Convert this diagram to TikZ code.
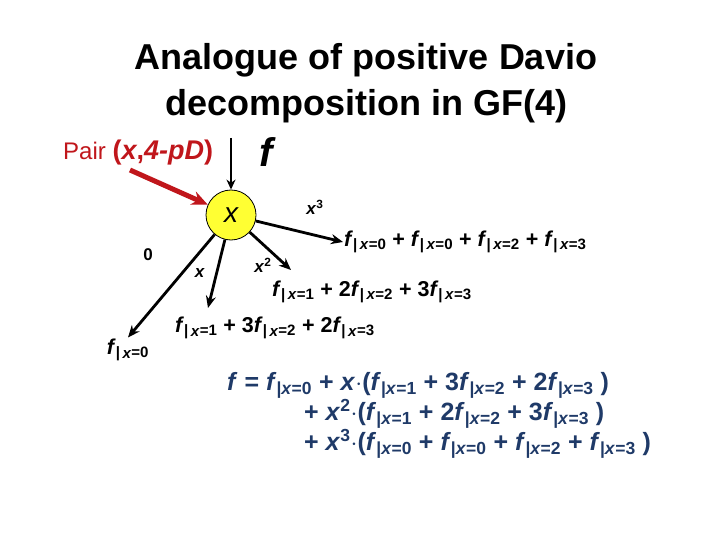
\documentclass[tikz,border=0pt]{standalone}
\usepackage{fontspec}
\setmainfont{Liberation Sans}
\usetikzlibrary{positioning,arrows.meta,calc}
\definecolor{pairred}{HTML}{C0161B}
\definecolor{eqblue}{HTML}{1F3A68}
\definecolor{varyellow}{HTML}{FFFF33}
\newcommand{\fx}[1]{\textit{f}\textsubscript{|\,\textit{x}=#1}}
\newcommand{\fb}[1]{\textit{f}\textsubscript{|\textit{x}=#1}}
\tikzset{
    title/.style={font=\fontsize{36}{46}\selectfont\bfseries,align=center},
    var/.style={circle,draw,thick,fill=varyellow,minimum size=50pt,inner sep=0pt,
        font=\fontsize{28}{30}\selectfont\itshape},
    branch/.style={-{Stealth[length=12pt,width=10pt]},line width=2.8pt},
    lbl/.style={font=\fontsize{17}{20}\selectfont\bfseries},
    cof/.style={font=\fontsize{21.5}{24}\selectfont\bfseries,inner sep=1pt},
    eq/.style={font=\fontsize{25}{29}\selectfont\bfseries,text=eqblue,align=left,inner sep=0pt},
}
\begin{document}
\begin{tikzpicture}[x=1pt,y=-1pt]
    \useasboundingbox (0,0) rectangle (720,540);
    \node[title] (t1) at (366,60) {Analogue of positive Davio};
    \node[title] (t2) at (366,106) {decomposition in GF(4)};
    \node[anchor=base west,text=pairred,inner sep=0pt] (pair) at (63,160)
        {{\fontsize{24}{26}\selectfont Pair }{\fontsize{27}{28}\selectfont\bfseries(\textit{x},\textit{4-pD})}};
    \node[font=\fontsize{40}{44}\selectfont\bfseries\itshape] (f) at (266,152) {f};
    \node[var] (v) at (231,215) {x};
    \coordinate (ftop) at (231,138);
    \coordinate (pfrom) at (130,170);
    \draw[-{Stealth[length=10pt,width=9pt]},line width=1.8pt] (ftop) -- (v);
    \draw[-{Stealth[length=16pt,width=14pt]},line width=5pt,pairred] (pfrom) -- (v);
    % cofactors
    \node[cof,anchor=west] (c3) at (343,242) {\fx{0} + \fx{0} + \fx{2} + \fx{3}};
    \node[cof,anchor=west] (c2) at (271,292) {\fx{1} + 2\fx{2} + 3\fx{3}};
    \node[cof,anchor=west] (c1) at (174,328) {\fx{1} + 3\fx{2} + 2\fx{3}};
    \node[cof] (c0) at (128,350) {\fx{0}};
    \coordinate (e2) at (291,270);
    \coordinate (e1) at (208,308);
    \draw[branch] (v) -- (c3.west);
    \draw[branch] (v) -- (e2);
    \draw[branch] (v) -- (e1);
    \draw[branch] (v) -- (c0.north);
    \node[lbl] (l3) at (315,207) {\textit{x}\textsuperscript{3}};
    \node[lbl] (l2) at (263,265) {\textit{x}\textsuperscript{2}};
    \node[lbl] (l1) at (200,273) {\textit{x}};
    \node[lbl] (l0) at (148,255) {0};
    % expansion
    \node[eq,anchor=north west] (expand) at (227,372)
        {\textit{f} = \fb{0} + \textit{x}$\cdot$(\fb{1} + 3\fb{2} + 2\fb{3} )\\
         \hspace{77pt}+ \textit{x}\textsuperscript{2}$\cdot$(\fb{1} + 2\fb{2} + 3\fb{3} )\\
         \hspace{77pt}+ \textit{x}\textsuperscript{3}$\cdot$(\fb{0} + \fb{0} + \fb{2} + \fb{3} )};
\end{tikzpicture}
\end{document}
